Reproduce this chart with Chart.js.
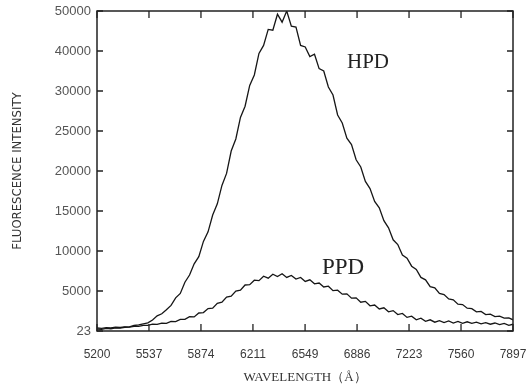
<!DOCTYPE html>
<html>
<head>
<meta charset="utf-8">
<script src="https://cdn.jsdelivr.net/npm/chart.js@4"></script>
<style>
  html, body { margin: 0; padding: 0; background: #fff; }
  #wrap { width: 527px; height: 387px; }
</style>
</head>
<body>
<div id="wrap"><canvas id="c" width="527" height="387"></canvas></div>
<script>
const wavelengths = [5200,5230,5260,5290,5320,5350,5380,5410,5440,5470,5500,5530,5560,5590,5620,5650,5680,5710,5740,5770,5800,5830,5860,5890,5920,5950,5980,6010,6040,6070,6100,6130,6160,6190,6220,6250,6280,6310,6340,6370,6400,6430,6460,6490,6520,6550,6580,6610,6640,6670,6700,6730,6760,6790,6820,6850,6880,6910,6940,6970,7000,7030,7060,7090,7120,7150,7180,7210,7240,7270,7300,7330,7360,7390,7420,7450,7480,7510,7540,7570,7600,7630,7660,7690,7720,7750,7780,7810,7840,7870,7897];

const hpd = [250,210,320,280,380,350,470,520,690,760,880,1010,1380,1900,2150,2650,3200,4150,4700,6100,7000,8400,9300,11200,12400,14500,15900,18200,19700,22500,24000,26700,28100,30700,32000,34700,35700,37700,37600,39600,38600,40000,38100,38000,35700,35500,34300,34600,32800,32500,30500,29500,27000,26000,24100,23300,21400,20500,18700,17800,16200,15400,13800,12900,11400,10800,9500,9100,8100,7700,6700,6400,5550,5400,4700,4550,4000,3900,3350,3300,2850,2800,2400,2450,2050,2100,1800,1850,1600,1650,1400];

const ppd = [380,340,430,400,470,440,510,480,590,570,710,700,850,830,990,950,1200,1180,1450,1450,1780,1760,2250,2300,2800,2850,3450,3600,4250,4350,5000,5100,5750,5800,6350,6300,6850,6600,7100,6800,7150,6700,6950,6500,6700,6200,6400,5900,6000,5500,5600,5050,5100,4600,4650,4100,4150,3600,3700,3150,3250,2750,2900,2400,2550,2050,2200,1700,1850,1400,1600,1200,1400,1100,1300,1050,1250,1000,1200,950,1150,950,1100,900,1050,850,1000,800,950,700,850];

const xTicks = [5200,5537,5874,6211,6549,6886,7223,7560,7897];
const yTickValues = [0,5000,10000,15000,20000,25000,30000,35000,40000];
const yTickLabels = ['23','5000','10000','15000','20000','25000','30000','40000','50000'];

const seriesLabels = [
  { text: 'HPD', x: 6957, y: 33625, size: 21 },
  { text: 'PPD', x: 6795, y: 7875, size: 23 }
];

const framePlugin = {
  id: 'frame',
  afterDraw(chart) {
    const { ctx, chartArea: { left, right, top, bottom }, scales: { x, y } } = chart;
    ctx.save();
    ctx.strokeStyle = '#222';
    ctx.lineWidth = 1.5;
    ctx.strokeRect(left, top, right - left, bottom - top);
    ctx.lineWidth = 1.3;
    ctx.beginPath();
    xTicks.forEach(v => {
      const px = x.getPixelForValue(v);
      ctx.moveTo(px, bottom); ctx.lineTo(px, bottom - 7);
      ctx.moveTo(px, top); ctx.lineTo(px, top + 7);
    });
    yTickValues.forEach(v => {
      const py = y.getPixelForValue(v);
      ctx.moveTo(left, py); ctx.lineTo(left + 6, py);
      ctx.moveTo(right, py); ctx.lineTo(right - 6, py);
    });
    ctx.stroke();
    ctx.fillStyle = '#222';
    ctx.textAlign = 'center';
    ctx.textBaseline = 'middle';
    seriesLabels.forEach(l => {
      ctx.font = l.size + 'px "Liberation Serif", "DejaVu Serif", serif';
      ctx.fillText(l.text, x.getPixelForValue(l.x), y.getPixelForValue(l.y));
    });
    ctx.restore();
  }
};

new Chart(document.getElementById('c'), {
  type: 'line',
  data: {
    datasets: [
      { label: 'HPD', data: wavelengths.map((w, i) => ({ x: w, y: hpd[i] })),
        borderColor: '#161616', borderWidth: 1.3, pointRadius: 0, tension: 0 },
      { label: 'PPD', data: wavelengths.map((w, i) => ({ x: w, y: ppd[i] })),
        borderColor: '#161616', borderWidth: 1.3, pointRadius: 0, tension: 0 }
    ]
  },
  options: {
    responsive: false,
    animation: false,
    layout: { padding: { left: 0, right: 14, top: 11, bottom: 0 } },
    plugins: { legend: { display: false }, tooltip: { enabled: false } },
    scales: {
      x: {
        type: 'linear', min: 5200, max: 7897,
        grid: { display: false, drawTicks: false },
        border: { display: false },
        afterBuildTicks: s => { s.ticks = xTicks.map(v => ({ value: v })); },
        afterFit: s => { s.height = 56; s.paddingRight = 0; s.paddingLeft = 0; },
        ticks: { autoSkip: false, maxRotation: 0, padding: 16, color: '#3a3a3a',
                 font: { family: '"Liberation Sans", Arial, sans-serif', size: 12 },
                 callback: v => String(v) },
        title: { display: true, text: 'WAVELENGTH（Å）', color: '#333',
                 font: { family: '"Liberation Serif", "DejaVu Serif", serif', size: 13 },
                 padding: { top: 0, bottom: 2 } }
      },
      y: {
        type: 'linear', min: 0, max: 40000,
        grid: { display: false, drawTicks: false },
        border: { display: false },
        afterBuildTicks: s => { s.ticks = yTickValues.map(v => ({ value: v })); },
        afterFit: s => { s.width = 97; s.paddingTop = 0; s.paddingBottom = 0; },
        ticks: { autoSkip: false, padding: 6, color: '#555',
                 font: { family: '"Liberation Sans", Arial, sans-serif', size: 13 },
                 callback: (v, i) => yTickLabels[i] },
        title: { display: true, text: 'FLUORESCENCE INTENSITY', color: '#333',
                 font: { family: '"Liberation Sans Narrow", "DejaVu Sans Condensed", sans-serif', size: 13 },
                 padding: { top: 10, bottom: 0 } }
      }
    }
  },
  plugins: [framePlugin]
});
</script>
</body>
</html>
